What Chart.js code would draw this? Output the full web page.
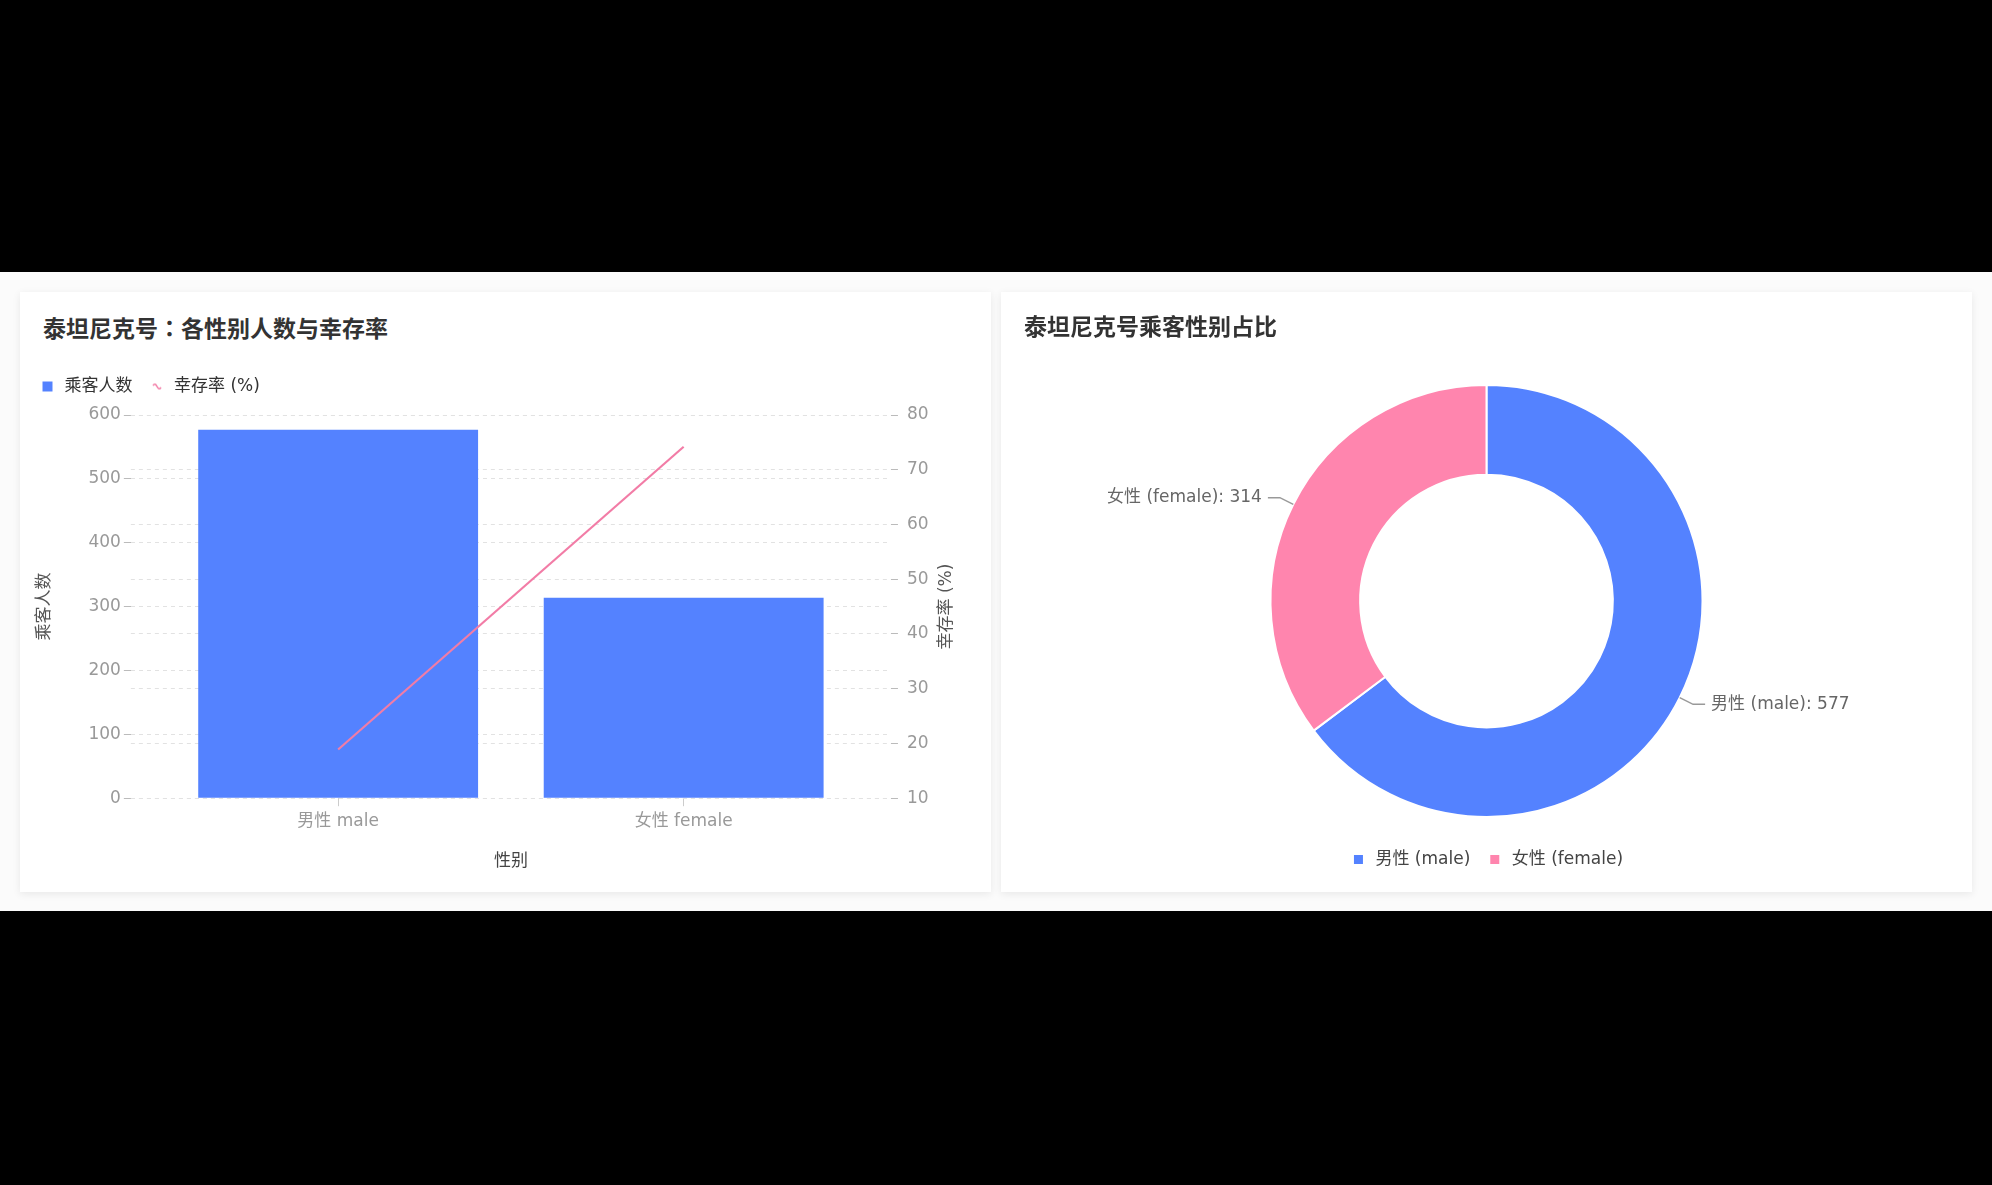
<!DOCTYPE html>
<html>
<head>
<meta charset="utf-8">
<script src="https://cdn.jsdelivr.net/npm/chart.js@4/dist/chart.umd.min.js"></script>
<style>
  body { margin:0; background:#000; width:1992px; height:1185px; position:relative; overflow:hidden;
         font-family:"DejaVu Sans","Noto Sans CJK SC",sans-serif; }
  .band { position:absolute; left:0; top:272px; width:1992px; height:639px; background:#fbfbfb; }
  .card { position:absolute; top:292px; width:971px; height:600px; background:#fff;
          box-shadow:0 2px 8px rgba(0,0,0,0.08); }
  .card h3 { position:absolute; left:23px; top:21px; margin:0; font-size:23px; font-weight:bold; color:#333;
             line-height:28px; }
  .card h3 .p { font-family:"Noto Sans CJK TC",sans-serif; }
  .card canvas { position:absolute; left:0; top:0; }
</style>
</head>
<body>
<div class="band"></div>
<div class="card" style="left:20px"><h3>泰坦尼克号<span class="p">：</span>各性别人数与幸存率</h3><canvas id="barChart" width="971" height="600"></canvas></div>
<div class="card" style="left:1001px"><h3>泰坦尼克号乘客性别占比</h3><canvas id="pieChart" width="971" height="600"></canvas></div>
<script>
const genders = ['男性 male', '女性 female'];
const passengers = [577, 314];
const survival = [18.9, 74.2];
const pieLabels = ['男性 (male)', '女性 (female)'];
const pieValues = [577, 314];

const blue = '#5482FF';
const pink = '#FF85AE';
const linePink = '#F27CA6';
const font = 'DejaVu Sans, Noto Sans CJK SC, sans-serif';
Chart.defaults.font.family = font;

// little squiggle used as legend icon for the line
const squiggle = document.createElement('canvas');
squiggle.width = 10; squiggle.height = 8;
(function(){
  let c = squiggle.getContext('2d');
  c.strokeStyle = linePink; c.lineWidth = 1.5;
  c.beginPath(); c.moveTo(1,3); c.quadraticCurveTo(3,0,5,4); c.quadraticCurveTo(7,8,9,5); c.stroke();
})();

// right axis title reads bottom-to-top in the reference
const rightTitle = {
  id:'rightTitle',
  afterDraw(chart){
    let s = chart.scales.y1, c = chart.ctx;
    c.save();
    c.translate(s.right - 36.5, (s.top + s.bottom)/2);
    c.rotate(-Math.PI/2);
    c.fillStyle = '#555'; c.font = '17px ' + font;
    c.textAlign = 'center'; c.textBaseline = 'middle';
    c.fillText('幸存率 (%)', 0, 0);
    c.restore();
  }
};

// x is numeric so the two groups sit closer to the middle, like the reference
const barPts = passengers.map((v, i) => ({ x:i, y:v }));
const linePts = survival.map((v, i) => ({ x:i, y:v }));

new Chart(document.getElementById('barChart'), {
  type:'bar',
  data:{
    datasets:[{
      label:'乘客人数', data:barPts, backgroundColor:blue, yAxisID:'y', order:2, pointStyle:'rect',
      categoryPercentage:0.81, barPercentage:1
    },{
      type:'line', label:'幸存率 (%)', data:linePts, borderColor:linePink, backgroundColor:linePink,
      borderWidth:2.2, pointRadius:0, yAxisID:'y1', order:1, pointStyle:squiggle
    }]
  },
  plugins:[rightTitle],
  options:{
    responsive:false, animation:false,
    layout:{ padding:{ left:3, right:8, top:70, bottom:16 } },
    plugins:{
      legend:{ position:'top', align:'start',
        labels:{ usePointStyle:true, boxHeight:10, boxWidth:17, padding:16, color:'#333', font:{ size:17 },
          sort:(a, b) => a.datasetIndex - b.datasetIndex } },
      // empty spacer between legend and plot
      title:{ display:true, text:'', weight:500, padding:{ top:9, bottom:0 }, font:{ size:1, lineHeight:1 } },
      tooltip:{ enabled:false }
    },
    scales:{
      x:{
        type:'linear', min:-0.6, max:1.6, offset:false,
        afterBuildTicks:s => { s.ticks = genders.map((g, i) => ({ value:i })); },
        grid:{ drawOnChartArea:false, offset:false, tickLength:8, color:'#ccc' },
        border:{ display:false },
        ticks:{ color:'#999', font:{ size:17 }, padding:5, callback:v => genders[v] },
        title:{ display:true, text:'性别', color:'#444', font:{ size:17 }, padding:{ top:15, bottom:4 } }
      },
      y:{
        position:'left', min:0, max:600,
        ticks:{ stepSize:100, color:'#999', font:{ size:17 }, padding:3 },
        grid:{ color:'#e2e2e2', borderDash:[4,4], tickLength:7, tickColor:'#bbb' },
        border:{ display:false, dash:[4,4] },
        title:{ display:true, text:'乘客人数', color:'#555', font:{ size:17 }, padding:{ top:11, bottom:31 } }
      },
      y1:{
        position:'right', min:10, max:80,
        ticks:{ stepSize:10, color:'#999', font:{ size:17 }, padding:9 },
        grid:{ color:'#e2e2e2', tickLength:7, tickColor:'#bbb' },
        border:{ display:false, dash:[4,4] },
        title:{ display:true, text:'幸存率 (%)', color:'transparent', font:{ size:17 }, padding:{ top:25, bottom:0 } }
      }
    }
  }
});

// outside labels with leader lines
const outsideLabels = {
  id:'outsideLabels',
  afterDatasetsDraw(chart){
    let c = chart.ctx, arcs = chart.getDatasetMeta(0).data;
    c.save();
    c.font = '17px ' + font;
    c.textBaseline = 'middle';
    arcs.forEach((a, i) => {
      let mid = (a.startAngle + a.endAngle)/2;
      let cos = Math.cos(mid), sin = Math.sin(mid);
      let r = a.outerRadius;
      let x0 = a.x + cos*r, y0 = a.y + sin*r;
      let x1 = a.x + cos*(r+15), y1 = a.y + sin*(r+15);
      let dir = cos >= 0 ? 1 : -1;
      let x2 = x1 + dir*12;
      c.strokeStyle = '#999'; c.lineWidth = 1.5;
      c.beginPath(); c.moveTo(x0,y0); c.lineTo(x1,y1); c.lineTo(x2,y1); c.stroke();
      c.fillStyle = '#666';
      c.textAlign = dir > 0 ? 'left' : 'right';
      c.fillText(pieLabels[i] + ': ' + pieValues[i], x2 + dir*6, y1);
    });
    c.restore();
  }
};

new Chart(document.getElementById('pieChart'), {
  type:'doughnut',
  data:{
    labels:pieLabels,
    datasets:[{ data:pieValues, backgroundColor:[blue, pink], borderColor:'#fff', borderWidth:2,
      radius:216, cutout:'58.5%' }]
  },
  plugins:[outsideLabels],
  options:{
    responsive:false, animation:false,
    layout:{ padding:{ left:12, right:12, top:75, bottom:14 } },
    plugins:{
      legend:{ position:'bottom', align:'center',
        labels:{ usePointStyle:true, pointStyle:'rect', boxHeight:11, boxWidth:17, padding:16, color:'#444', font:{ size:17 } } },
      tooltip:{ enabled:false }
    }
  }
});
</script>
</body>
</html>
